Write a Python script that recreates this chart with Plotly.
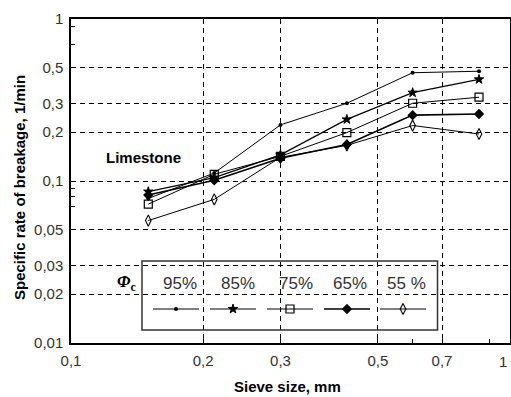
import plotly.graph_objects as go

# ---- data ----
sieve_mm = [0.15, 0.212, 0.3, 0.425, 0.6, 0.85]
phi_95 = [0.078, 0.112, 0.222, 0.302, 0.466, 0.476]
phi_85 = [0.086, 0.105, 0.145, 0.240, 0.351, 0.424]
phi_75 = [0.072, 0.110, 0.142, 0.199, 0.302, 0.329]
phi_65 = [0.082, 0.101, 0.138, 0.168, 0.255, 0.259]
phi_55 = [0.057, 0.077, 0.140, 0.166, 0.220, 0.195]
series_labels = ["95%", "85%", "75%", "65%", "55 %"]

y_tickvals = [0.01, 0.02, 0.03, 0.05, 0.1, 0.2, 0.3, 0.5, 1]
y_ticktext = ["0,01", "0,02", "0,03", "0,05", "0,1", "0,2", "0,3", "0,5", "1"]
x_tickvals = [0.1, 0.2, 0.3, 0.5, 0.7, 1]
x_ticktext = ["0,1", "0,2", "0,3", "0,5", "0,7", "1"]

# ---- layout geometry (pixels) ----
W, H = 511, 397
L, R, T, B = 71, 1, 19, 54
PW, PH = W - L - R, H - T - B

def px(x):
    return (x - L) / PW

def py(y):
    return (H - B - y) / PH

styles = [
    dict(symbol="circle", size=4, color="black", line=dict(width=0), lw=1.0),
    dict(symbol="star", size=7, color="black", line=dict(width=1, color="black"), lw=1.2),
    dict(symbol="square-open", size=8, color="black", line=dict(width=1.2, color="black"), lw=1.0),
    dict(symbol="diamond", size=8, color="black", line=dict(width=0), lw=1.6),
    dict(symbol="diamond-tall-open", size=8, color="black", line=dict(width=1.1, color="black"), lw=1.0),
]

fig = go.Figure()
all_series = [phi_95, phi_85, phi_75, phi_65, phi_55]
for vals, st, lab in zip(all_series, styles, series_labels):
    fig.add_trace(go.Scatter(
        x=sieve_mm, y=vals, mode="lines+markers", name=lab, showlegend=False,
        line=dict(color="black", width=st["lw"]),
        marker=dict(symbol=st["symbol"], size=st["size"], color=st["color"], line=st["line"]),
        cliponaxis=False,
    ))

# ---- custom legend key (text above a line sample) ----
key_centers = [176, 233, 290, 347, 403]
text_centers = [180, 238, 296, 350, 406]
key_half = 23
key_y = 309
for xc, st in zip(key_centers, styles):
    fig.add_trace(go.Scatter(
        x=[px(xc - key_half), px(xc + key_half)], y=[py(key_y)] * 2,
        xaxis="x2", yaxis="y2", mode="lines", showlegend=False, hoverinfo="skip",
        line=dict(color="black", width=st["lw"]),
    ))
    fig.add_trace(go.Scatter(
        x=[px(xc)], y=[py(key_y)],
        xaxis="x2", yaxis="y2", mode="markers", showlegend=False, hoverinfo="skip",
        marker=dict(symbol=st["symbol"], size=st["size"], color=st["color"], line=st["line"]),
    ))

tick_font = dict(family="Liberation Sans Narrow, Arial Narrow, Liberation Sans", size=15, color="#333333")

annotations = []
for xc, lab in zip(text_centers, series_labels):
    annotations.append(dict(x=px(xc), y=py(283), xref="paper", yref="paper", text=lab,
                            showarrow=False, xanchor="center", yanchor="middle",
                            font=dict(family="Liberation Sans", size=17, color="#333333")))
annotations.append(dict(x=px(126), y=py(283), xref="paper", yref="paper",
                        text="<b><i>Φ</i></b><sub><b>c</b></sub>", showarrow=False,
                        xanchor="center", yanchor="middle",
                        font=dict(family="Liberation Serif", size=17, color="black")))
annotations.append(dict(x=px(143), y=py(157), xref="paper", yref="paper", text="<b>Limestone</b>",
                        showarrow=False, xanchor="center", yanchor="middle",
                        font=dict(family="Liberation Sans", size=15, color="black")))
annotations.append(dict(x=px(287), y=py(386), xref="paper", yref="paper", text="<b>Sieve size, mm</b>",
                        showarrow=False, xanchor="center", yanchor="middle",
                        font=dict(family="Liberation Sans", size=15, color="black")))
annotations.append(dict(x=px(19), y=py(188), xref="paper", yref="paper",
                        text="<b>Specific rate of breakage, 1/min</b>", textangle=-90,
                        showarrow=False, xanchor="center", yanchor="middle",
                        font=dict(family="Liberation Sans", size=15, color="black")))
# last x tick label, right-aligned so it stays inside the picture
annotations.append(dict(x=1, y=py(361), xref="paper", yref="paper", text=x_ticktext[-1],
                        showarrow=False, xanchor="right", yanchor="middle", xshift=-1,
                        font=tick_font))

shapes = [dict(type="rect", xref="paper", yref="paper", x0=px(142), x1=px(437.5), y0=py(330), y1=py(261),
               line=dict(color="#333333", width=1.5), fillcolor="rgba(0,0,0,0)")]

grid = dict(showgrid=True, gridcolor="black", gridwidth=1, griddash="5px,4px")

fig.update_layout(
    width=W, height=H, margin=dict(l=L, r=R, t=T, b=B, autoexpand=False),
    paper_bgcolor="white", plot_bgcolor="white",
    xaxis=dict(type="log", range=[-1, 0], tickvals=x_tickvals, ticktext=x_ticktext[:-1] + [""],
               ticks="inside", ticklen=5, tickcolor="black", tickfont=tick_font,
               showline=True, mirror=True, linecolor="black", linewidth=1.5,
               zeroline=False, ticklabelstandoff=3,
               minor=dict(tickvals=[0.6, 0.9], ticks="inside", ticklen=4, tickcolor="black", showgrid=False),
               **grid),
    yaxis=dict(type="log", range=[-2, 0], tickvals=y_tickvals, ticktext=y_ticktext,
               ticks="inside", ticklen=5, tickcolor="black", tickfont=tick_font,
               showline=True, mirror=True, linecolor="black", linewidth=1.5,
               zeroline=False, ticklabelstandoff=3, ticklabeloverflow="allow",
               minor=dict(tickvals=[0.07, 0.08, 0.09, 0.7, 0.9], ticks="inside", ticklen=4,
                          tickcolor="black", showgrid=False),
               **grid),
    xaxis2=dict(overlaying="x", range=[0, 1], visible=False, fixedrange=True),
    yaxis2=dict(overlaying="y", range=[0, 1], visible=False, fixedrange=True),
    annotations=annotations, shapes=shapes, showlegend=False,
)

fig.write_html(
    "out.html",
    config={"displayModeBar": False},
    post_script="document.body.style.margin='0';document.body.style.overflow='hidden';",
)
